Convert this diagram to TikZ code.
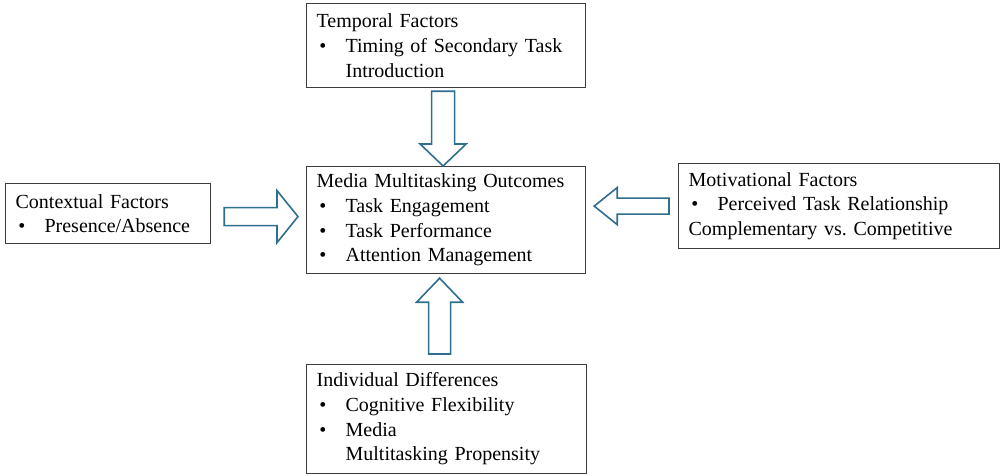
\documentclass[tikz,border=0pt]{standalone}
\usepackage{fontspec}
\setmainfont{Liberation Serif}
\usetikzlibrary{calc}
\definecolor{arrowblue}{RGB}{47,110,143}
\definecolor{boxline}{RGB}{60,60,60}
\newcommand{\bul}{\makebox[21.75pt][l]{\hspace{2pt}\textbullet}}
\newcommand{\ind}{\hspace*{21.75pt}}
\frenchspacing
\begin{document}
\begin{tikzpicture}[x=0.75pt,y=-0.75pt,
  factorbox/.style={draw=boxline,line width=0.9pt,rectangle,anchor=north west,
    inner xsep=7.5pt,inner ysep=0pt,align=left,
    font=\fontsize{15}{18.5}\selectfont},
  blockarrow/.style={draw=arrowblue,line width=1.2pt,fill=white,line join=miter}]
\useasboundingbox (0,0) rectangle (1005,475);

% factor boxes
\node[factorbox,minimum width=209.25pt,minimum height=63pt,text width=194.25pt]
  (temporal) at (306,3)
  {Temporal Factors\\ \bul Timing of Secondary Task\\ \ind Introduction};
\node[factorbox,minimum width=209.25pt,minimum height=80.25pt,text width=194.25pt]
  (center) at (306,166)
  {Media Multitasking Outcomes\\ \bul Task Engagement\\ \bul Task Performance\\ \bul Attention Management};
\node[factorbox,minimum width=210pt,minimum height=81.75pt,text width=195pt]
  (individual) at (306,364)
  {Individual Differences\\ \bul Cognitive Flexibility\\ \bul Media\\ \ind Multitasking Propensity};
\node[factorbox,minimum width=153.75pt,minimum height=45pt,text width=138.75pt]
  (contextual) at (5,183)
  {Contextual Factors\\ \bul Presence/Absence};
\node[factorbox,minimum width=240.75pt,minimum height=63.75pt,text width=225.75pt]
  (motivational) at (678,163)
  {Motivational Factors\\ \bul Perceived Task Relationship\\ Complementary vs. Competitive};

% block arrow from the top box down to the outcomes
\coordinate (ta) at ($(temporal.south)+(-3,3)$);
\coordinate (tb) at ($(center.north)+(-3,0)$);
\draw[blockarrow] ($(ta)+(-11.5,0)$) -- ($(tb)+(-11.5,-22)$) -- ($(tb)+(-23,-22)$)
  -- (tb) -- ($(tb)+(23,-22)$) -- ($(tb)+(11.5,-22)$) -- ($(ta)+(11.5,0)$) -- cycle;

% block arrow from the bottom box up to the outcomes
\coordinate (ba) at ($(individual.north)+(-7,-10)$);
\coordinate (bb) at ($(center.south)+(-6.5,4)$);
\draw[blockarrow] ($(ba)+(-11,0)$) -- ($(bb)+(-11,24)$) -- ($(bb)+(-23,24)$)
  -- (bb) -- ($(bb)+(23,24)$) -- ($(bb)+(11,24)$) -- ($(ba)+(11,0)$) -- cycle;

% block arrow from the left box to the outcomes
\coordinate (la) at ($(contextual.east)+(13,3)$);
\coordinate (lb) at ($(la -| center.west)+(-8,0)$);
\draw[blockarrow] ($(la)+(0,-9)$) -- ($(lb)+(-21,-9)$) -- ($(lb)+(-21,-26)$)
  -- (lb) -- ($(lb)+(-21,26)$) -- ($(lb)+(-21,9)$) -- ($(la)+(0,9)$) -- cycle;

% block arrow from the right box to the outcomes
\coordinate (ra) at ($(motivational.west)+(-9,0)$);
\coordinate (rb) at ($(ra -| center.east)+(8,0)$);
\draw[blockarrow] ($(ra)+(0,-8)$) -- ($(rb)+(23,-8)$) -- ($(rb)+(23,-18.5)$)
  -- (rb) -- ($(rb)+(23,18.5)$) -- ($(rb)+(23,8)$) -- ($(ra)+(0,8)$) -- cycle;
\end{tikzpicture}
\end{document}
